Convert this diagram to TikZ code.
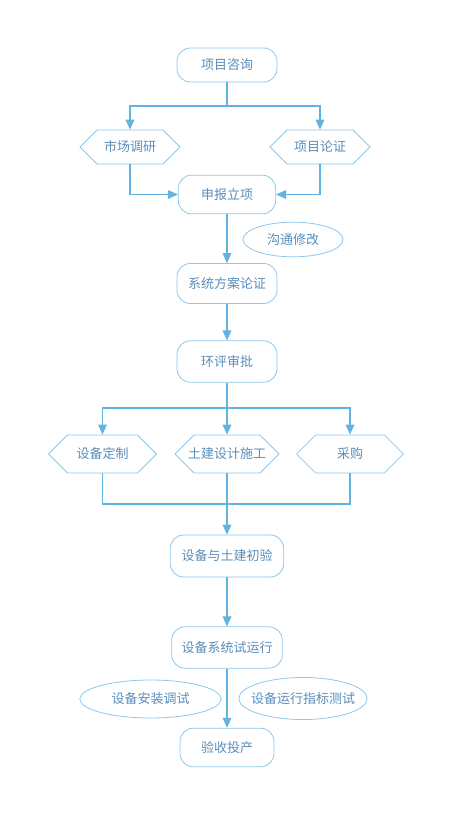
\documentclass[tikz,border=0pt]{standalone}
\usepackage{fontspec}
\setmainfont{Noto Sans CJK SC}
\usetikzlibrary{arrows.meta,shapes.symbols,shapes.geometric}
\definecolor{cLine}{HTML}{62B3E2}
\definecolor{cEdge}{HTML}{8CC8EA}
\definecolor{cText}{HTML}{5A8EBB}

\begin{document}
\begin{tikzpicture}[x=0.75pt, y=-0.75pt, font=\fontsize{9.75}{12}\selectfont, >={Triangle[width=6.5pt,length=7.5pt]},
  box/.style={draw=cEdge, fill=white, text=cText, line width=0.6pt, rounded corners=10pt, inner sep=0pt, minimum width=75pt, minimum height=28pt},
  hexa/.style={signal, signal to=west and east, signal pointer angle=90, draw=cEdge, fill=white, text=cText, line width=0.6pt, inner sep=0pt, minimum width=75pt, minimum height=25.5pt},
  oval/.style={ellipse, draw=cEdge, fill=white, text=cText, line width=0.6pt, inner sep=0pt, minimum width=75pt, minimum height=26pt},
  link/.style={draw=cLine, line width=0.8pt}]
\useasboundingbox (0,0) rectangle (465,829);
% main column
\node[box, minimum height=25.5pt] (zx) at (227,65) {项目咨询};
\node[hexa] (sc) at (130,147) {市场调研};
\node[hexa] (xl) at (320,147) {项目论证};
\node[box, minimum width=73pt, minimum height=29pt] (sb) at (227,194.5) {申报立项};
\node[oval] (gt) at (293,239.5) {沟通修改};
\node[box, minimum height=30pt] (fa) at (227,283.5) {系统方案论证};
\node[box, minimum height=31pt] (hp) at (227,361.5) {环评审批};
\node[hexa, minimum width=81pt, minimum height=28.5pt] (dz) at (102.5,454) {设备定制};
\node[hexa, minimum width=78pt, minimum height=28.5pt, inner xsep=-4.5pt] (tj) at (227,454) {土建设计施工};
\node[hexa, minimum width=80pt, minimum height=28.5pt] (cg) at (350,454) {采购};
\node[box, minimum width=85pt, minimum height=31.5pt] (cy) at (227,556) {设备与土建初验};
\node[box, minimum width=83pt, minimum height=31pt] (sy) at (227,647.5) {设备系统试运行};
\node[oval, minimum width=106pt, minimum height=28.5pt] (az) at (150.5,699) {设备安装调试};
\node[oval, minimum width=96pt, minimum height=31.5pt, inner xsep=-5pt] (zb) at (303,698.5) {设备运行指标测试};
\node[box, minimum width=70.5pt, minimum height=29pt] (ys) at (227,747.5) {验收投产};
% branch points
\coordinate (s1) at (227,106);
\coordinate (s2) at (227,408);
\coordinate (j2) at (227,504);
% connectors
\draw[link, ->] (zx.south) -- (s1) -| (sc.north);
\draw[link, ->] (s1) -| (xl.north);
\draw[link, ->] (sc.south) |- (sb.west);
\draw[link, ->] (xl.south) |- (sb.east);
\draw[link, ->] (sb.south) -- (fa.north);
\draw[link, ->] (fa.south) -- (hp.north);
\draw[link, ->] (hp.south) -- (tj.north);
\draw[link, ->] (s2) -| (dz.north);
\draw[link, ->] (s2) -| (cg.north);
\draw[link] (dz.south) |- (j2);
\draw[link] (cg.south) |- (j2);
\draw[link, ->] (tj.south) -- (cy.north);
\draw[link, ->] (cy.south) -- (sy.north);
\draw[link, ->] (sy.south) -- (ys.north);
\end{tikzpicture}
\end{document}
